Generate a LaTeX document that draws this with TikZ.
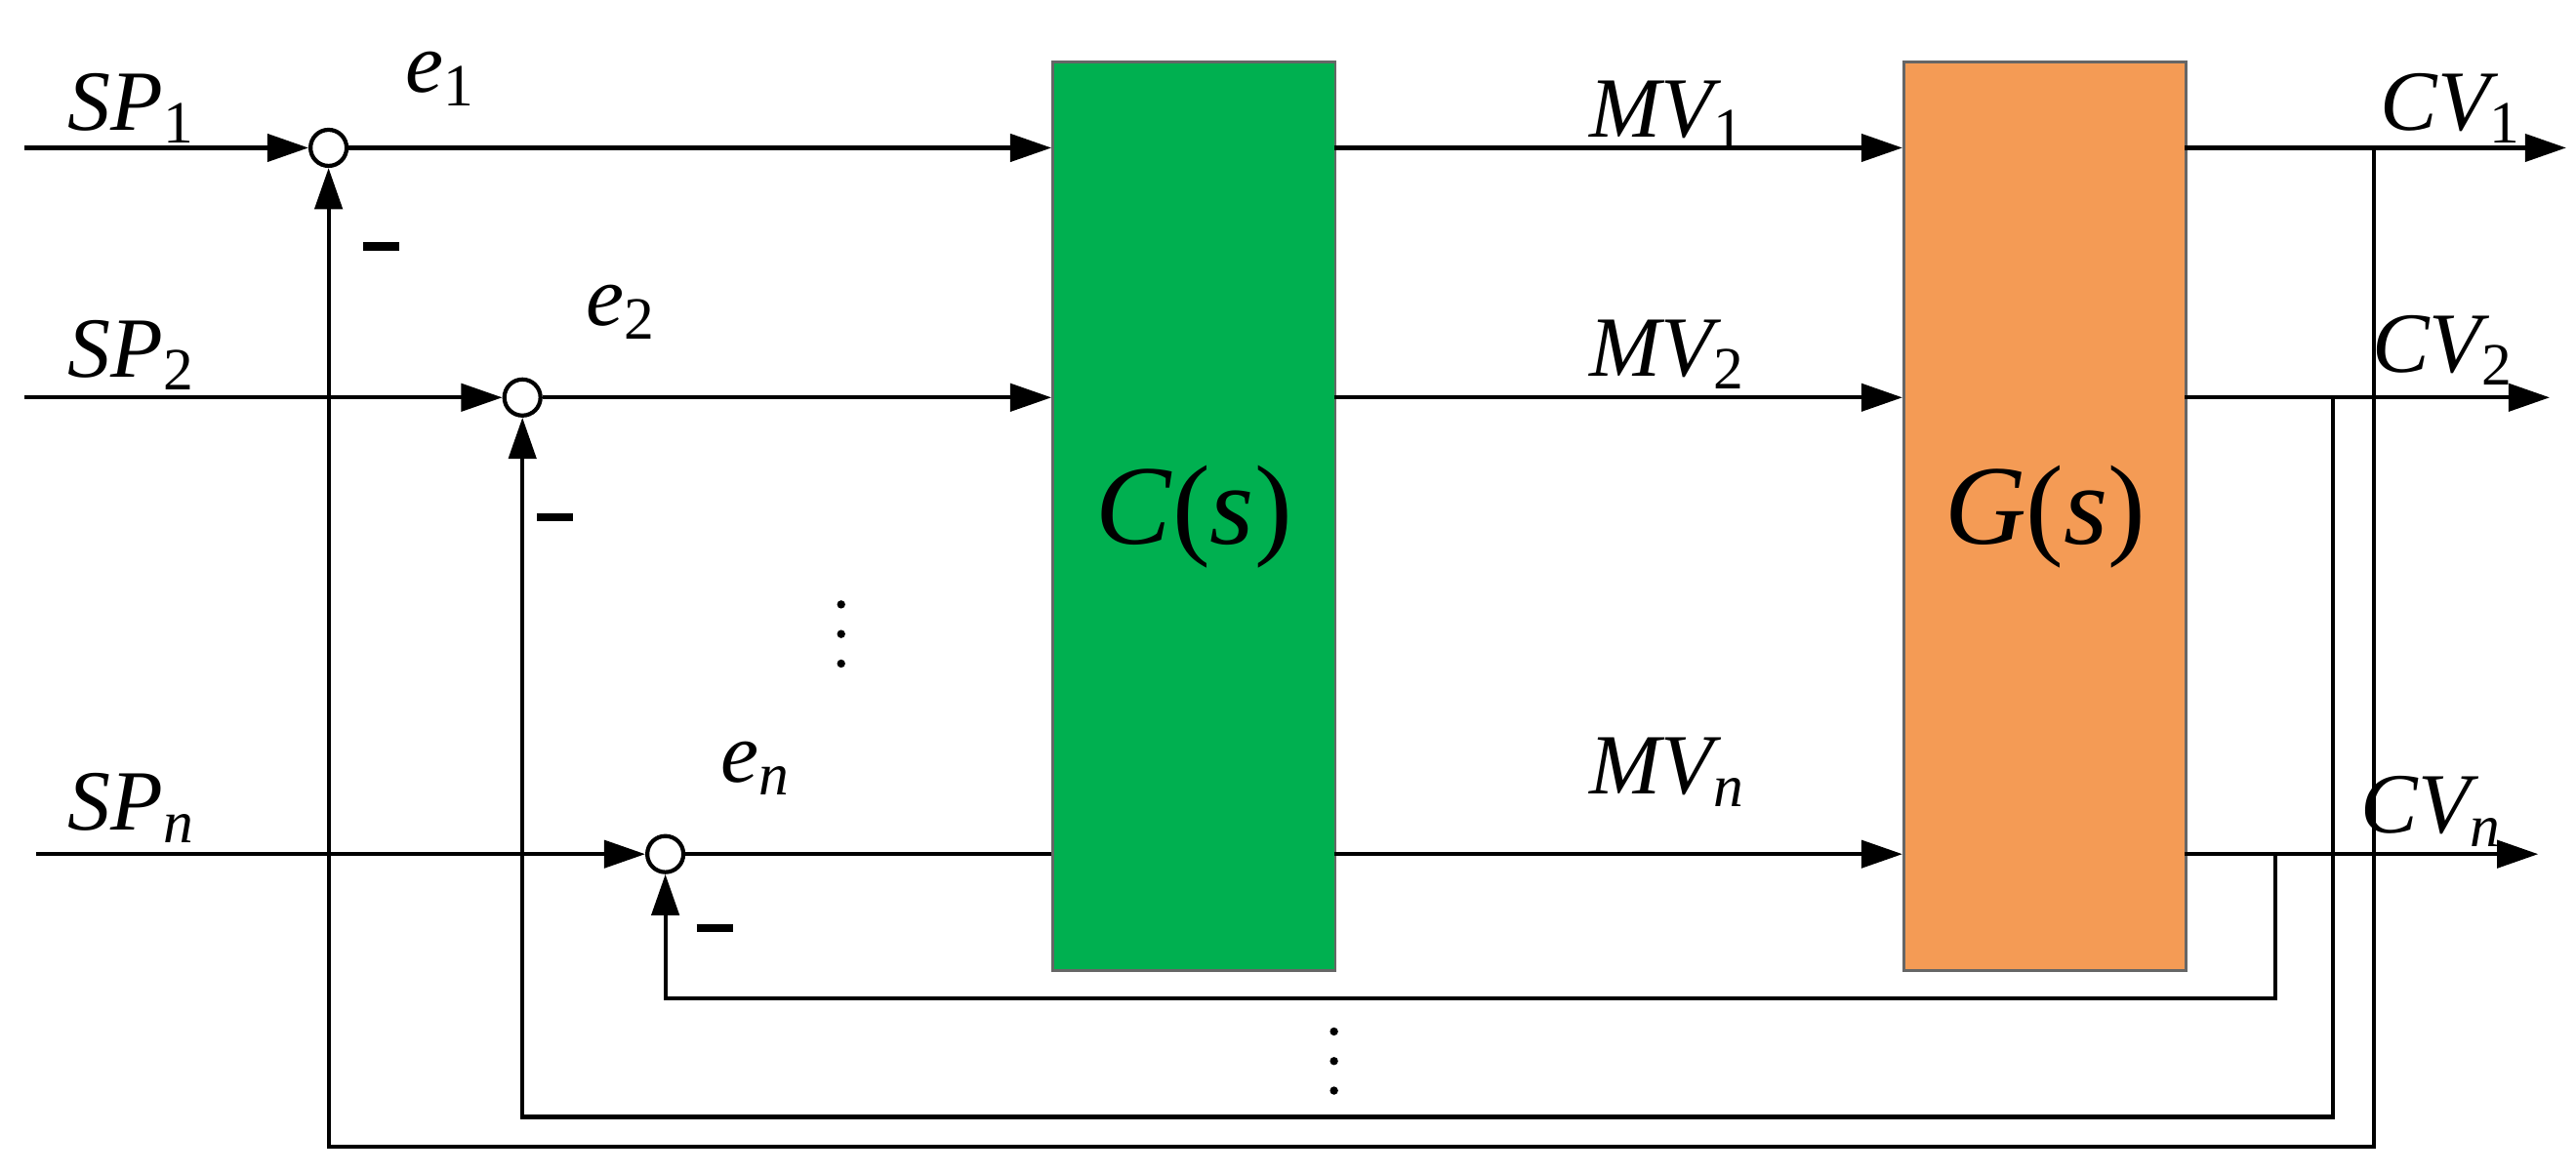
\documentclass[tikz,border=0pt]{standalone}
\usepackage{fontspec}
\setmainfont{Liberation Serif}
\usetikzlibrary{arrows.meta}
\definecolor{cgreen}{RGB}{0,176,80}
\definecolor{corange}{RGB}{244,155,85}
\begin{document}
\begin{tikzpicture}[x=0.01683cm,y=-0.01683cm,
  line width=1.2pt,
  arr/.style={-{Triangle[length=12pt,width=8pt]}},
  sumj/.style={circle,draw,fill=white,minimum size=0.37cm,inner sep=0pt},
  lbl/.style={font=\fontsize{25}{28}\selectfont\itshape},
  blk/.style={draw=black!60,line width=0.8pt}]
\useasboundingbox (0,0) rectangle (1568,715);
% blocks
\node[blk,fill=cgreen,minimum width=2.895cm,minimum height=9.31cm,anchor=north west,inner sep=0] (C) at (640,37) {};
\node[font=\fontsize{33}{36}\selectfont] at (C.center) {\textit{C}(\textit{s})};
\node[blk,fill=corange,minimum width=2.895cm,minimum height=9.31cm,anchor=north west,inner sep=0] (G) at (1158,37) {};
\node[font=\fontsize{33}{36}\selectfont] at (G.center) {\textit{G}(\textit{s})};
% summing junctions
\node[sumj] (s1) at (200,90) {};
\node[sumj] (s2) at (318,242) {};
\node[sumj] (s3) at (405,520) {};
% inputs
\coordinate (i1) at (15,90); \coordinate (i2) at (15,242); \coordinate (i3) at (22,520);
\draw[arr] (i1) -- (s1);
\draw[arr] (i2) -- (s2);
\draw[arr] (i3) -- (s3);
% to C
\draw[arr] (s1) -- (640,90);
\draw[arr] (s2) -- (640,242);
\draw (s3) -- (640,520);
% to G
\draw[arr] (812,90) -- (1158,90);
\draw[arr] (812,242) -- (1158,242);
\draw[arr] (812,520) -- (1158,520);
% outputs
\coordinate (o1) at (1562,90); \coordinate (o2) at (1552,242); \coordinate (o3) at (1545,520);
\draw[arr] (1330,90) -- (o1);
\draw[arr] (1330,242) -- (o2);
\draw[arr] (1330,520) -- (o3);
% feedback
\draw[arr] (1445,90) -- (1445,698) -- (200,698) -- (s1);
\draw[arr] (1420,242) -- (1420,680) -- (318,680) -- (s2);
\draw[arr] (1385,520) -- (1385,608) -- (405,608) -- (s3);
% minus signs
\draw[line width=2.4pt] (221,150) -- (243,150);
\draw[line width=2.4pt] (327,315) -- (349,315);
\draw[line width=2.4pt] (424,565) -- (446,565);
% dots
\foreach \y in {368,386,404} \fill (512,\y) circle (2.5);
\foreach \y in {628,646,664} \fill (812,\y) circle (2.5);
% labels
\node[lbl] at (80,66) {SP\textsubscript{\upshape 1}};
\node[lbl] at (80,216) {SP\textsubscript{\upshape 2}};
\node[lbl] at (80,492) {SP\textsubscript{n}};
\node[lbl] at (268,48) {e\textsubscript{\upshape 1}};
\node[lbl] at (378,190) {e\textsubscript{\upshape 2}};
\node[lbl] at (460,468) {e\textsubscript{n}};
\node[lbl] at (1015,70) {MV\textsubscript{\upshape 1}};
\node[lbl] at (1015,216) {MV\textsubscript{\upshape 2}};
\node[lbl] at (1015,470) {MV\textsubscript{n}};
\node[lbl] at (1492,66) {CV\textsubscript{\upshape 1}};
\node[lbl] at (1487,213) {CV\textsubscript{\upshape 2}};
\node[lbl] at (1480,494) {CV\textsubscript{n}};
\end{tikzpicture}
\end{document}
